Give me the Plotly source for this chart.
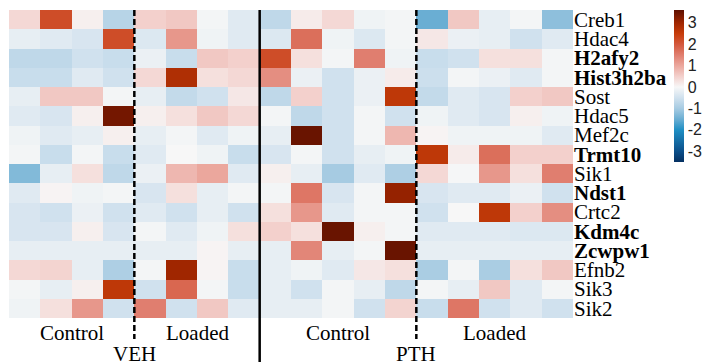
import plotly.graph_objects as go

genes = ["Creb1", "Hdac4", "H2afy2", "Hist3h2ba", "Sost", "Hdac5", "Mef2c", "Trmt10",
         "Sik1", "Ndst1", "Crtc2", "Kdm4c", "Zcwpw1", "Efnb2", "Sik3", "Sik2"]
bold_genes = ["H2afy2", "Hist3h2ba", "Trmt10", "Ndst1", "Kdm4c", "Zcwpw1"]

# columns: VEH Control (4), VEH Loaded (4), PTH Control (5), PTH Loaded (5)
treatments = ["VEH", "PTH"]
conditions = ["Control", "Loaded"]
group_sizes = [4, 4, 5, 5]

values = [
    [0.4, 2.2, 0.1, -0.8, 0.5, 0.6, -0.05, -0.3, -0.7, 0.15, 0.4, -0.1, -0.05, -1.5, 0.6, -0.2, -0.05, -1.2],
    [-0.2, -0.3, -0.4, 2.2, -0.35, 1.2, -0.1, -0.3, -0.35, 1.7, -0.1, -0.35, -0.05, 0.2, -0.15, -0.2, -0.5, -0.3],
    [-0.7, -0.7, -0.5, -0.6, -0.15, -0.6, 0.6, 0.5, 2.2, 0.3, -0.05, 1.5, -0.1, -0.6, -0.5, 0.3, 0.3, -0.05],
    [-0.6, -0.6, -0.3, -0.5, 0.4, 2.8, 0.3, 0.4, 1.3, -0.15, -0.5, -0.15, 0.15, -0.55, -0.05, -0.15, -0.3, -0.05],
    [-0.2, 0.6, 0.6, -0.05, -0.2, -0.65, -0.5, 0.2, -0.7, 0.5, -0.5, -0.15, 2.6, -0.65, -0.3, -0.4, 0.5, 0.6],
    [-0.3, -0.4, 0.1, 3.4, 0.1, 0.3, 0.6, 0.4, -0.05, -0.7, -0.5, -0.05, -0.5, -0.1, -0.3, -0.4, 0.1, -0.1],
    [-0.1, -0.3, -0.2, 0.1, -0.2, -0.05, -0.3, -0.1, -0.2, 3.5, -0.5, -0.05, 0.8, 0.05, -0.1, -0.1, -0.1, -0.3],
    [-0.05, -0.6, -0.05, -0.6, -0.3, 0.0, -0.1, -0.6, -0.4, -0.05, -0.5, -0.2, -0.1, 2.6, 0.15, 1.7, 0.5, 0.5],
    [-1.3, -0.2, 0.3, -0.7, -0.15, 0.8, 1.0, -0.3, 0.1, -0.2, -1.0, -0.3, -0.9, 0.4, -0.02, 1.2, 0.3, 1.5],
    [-0.3, 0.05, -0.1, -0.05, -0.4, 0.3, -0.2, -0.05, -0.05, 1.6, -0.4, -0.05, 3.1, -0.4, -0.3, -0.3, -0.15, -0.5],
    [-0.4, -0.5, -0.15, -0.5, -0.3, -0.5, -0.2, -0.5, 0.3, 1.2, -0.3, -0.05, -0.05, -0.5, 0.0, 2.6, 0.5, 1.3],
    [-0.4, -0.4, 0.1, -0.4, -0.05, -0.3, -0.1, 0.3, 0.5, 0.3, 3.5, 0.1, -0.05, -0.3, -0.3, -0.3, -0.35, -0.35],
    [-0.2, -0.2, -0.2, -0.2, -0.2, -0.2, 0.05, -0.2, -0.2, 1.4, -0.2, -0.05, 3.5, -0.2, -0.2, -0.2, -0.2, -0.2],
    [0.4, 0.45, -0.2, -0.9, -0.05, 3.0, 0.05, -0.6, -0.2, -0.1, -0.3, 0.2, 0.3, -0.95, -0.05, -0.95, 0.3, 0.6],
    [-0.05, -0.2, 0.1, 2.6, -0.5, 1.8, -0.05, -0.6, -0.2, -0.5, -0.05, -0.2, -0.7, -0.05, -0.2, 0.6, -0.3, -0.05],
    [-0.1, 0.3, 1.2, -0.5, 1.5, -0.5, 0.6, -0.3, -0.2, -0.2, -0.05, -0.5, 0.45, -0.6, 1.6, -0.5, -0.3, -0.5],
]

colorbar_ticks = [-3, -2, -1, 0, 1, 2, 3]
zmin, zmax = -3.5, 3.6

stops = [(-3.5, "#053061"), (-3.0, "#0b4f8a"), (-2.0, "#1f8fc4"), (-1.5, "#6aaed3"),
         (-1.0, "#a6cbe2"), (-0.5, "#d0e1ee"), (0.0, "#f7f7f7"), (0.5, "#f3d0cc"),
         (1.0, "#eba79d"), (1.5, "#e07e6f"), (2.0, "#d4583c"), (2.5, "#c63c0a"),
         (3.0, "#a02600"), (3.6, "#5e1000")]
colorscale = [[(v - zmin) / (zmax - zmin), c] for v, c in stops]

ncols = sum(group_sizes)
xs = list(range(ncols))
ys = list(range(len(genes)))
ticktext = [f"<b>{g}</b>" if g in bold_genes else g for g in genes]

fig = go.Figure(go.Heatmap(
    z=values, x=xs, y=ys, zmin=zmin, zmax=zmax, colorscale=colorscale,
    colorbar=dict(
        thickness=10, lenmode="pixels", len=152, yanchor="top", y=1.0,
        xanchor="left", x=1.179, outlinewidth=0, xpad=0, ypad=0,
        tickvals=colorbar_ticks, ticktext=[str(t) if t >= 0 else "-" + str(-t) for t in colorbar_ticks],
        tickfont=dict(family="Liberation Sans", size=16, color="#222"),
        ticks="", ticklabelposition="outside",
    ),
))

# boundaries
bounds = []
acc = 0
for s in group_sizes:
    acc += s
    bounds.append(acc - 0.5)

shapes = []
for b in (bounds[0], bounds[2]):
    shapes.append(dict(type="line", xref="x", yref="paper", x0=b, x1=b, y0=1.0, y1=-0.068,
                       line=dict(color="black", width=2.5, dash="6px,3px")))
shapes.append(dict(type="line", xref="x", yref="paper", x0=bounds[1], x1=bounds[1], y0=1.0, y1=-0.15,
                   line=dict(color="black", width=2.5)))

annotations = []
start = -0.5
centers = []
for s in group_sizes:
    centers.append(start + s / 2)
    start += s
labels = [conditions[0], conditions[1], conditions[0], conditions[1]]
for cx, lab in zip(centers, labels):
    annotations.append(dict(x=cx, y=-0.049, xref="x", yref="paper", text=lab, showarrow=False,
                            xanchor="center", yanchor="middle",
                            font=dict(family="Liberation Serif", size=21, color="black")))
for b, t in zip((bounds[0], bounds[2]), treatments):
    annotations.append(dict(x=b, y=-0.116, xref="x", yref="paper", text=t, showarrow=False,
                            xanchor="center", yanchor="middle",
                            font=dict(family="Liberation Serif", size=21, color="black")))

fig.update_layout(
    width=712, height=362,
    margin=dict(l=9, r=139, t=10, b=44, autoexpand=False),
    paper_bgcolor="white", plot_bgcolor="white",
    xaxis=dict(range=[-0.5, ncols - 0.5], showticklabels=False, showgrid=False, zeroline=False,
               ticks="", automargin=False),
    yaxis=dict(range=[len(genes) - 0.5, -0.5], side="right", tickvals=ys, ticktext=ticktext,
               showgrid=False, zeroline=False, ticks="", automargin=False,
               tickfont=dict(family="Liberation Serif", size=21, color="black")),
    shapes=shapes, annotations=annotations,
)

fig.write_html("out.html", config={"displayModeBar": False},
               post_script="document.body.style.margin='0';")
